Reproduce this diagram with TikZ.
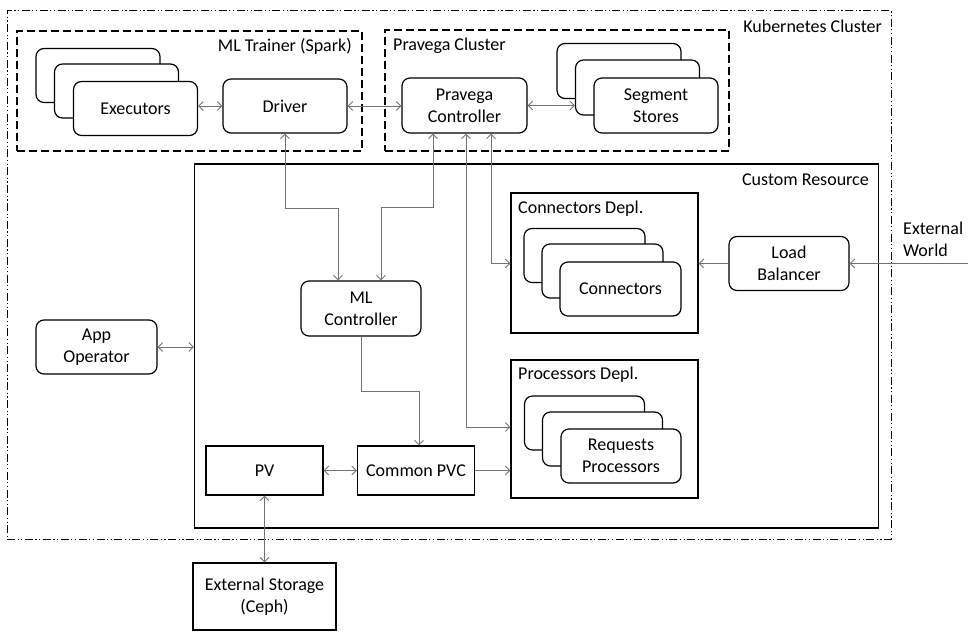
\documentclass[tikz,border=0pt]{standalone}
\usepackage{fontspec}
\setmainfont{Carlito}
\usetikzlibrary{arrows.meta,calc}
\begin{document}
\begin{tikzpicture}[x=1pt,y=-1pt,
  lbl/.style={inner sep=0pt, font=\fontsize{18}{22}\selectfont, align=center},
  box/.style={draw, line width=1.2pt, fill=white, inner sep=0pt, align=center, font=\fontsize{18}{22}\selectfont},
  rbox/.style={box, rounded corners=8pt},
  cont/.style={draw, line width=1.2pt, inner sep=0pt},
  dcont/.style={cont, line width=1.1pt, dash pattern=on 8pt off 4pt},
  kcont/.style={draw, line width=1pt, inner sep=0pt, dash pattern=on 8pt off 2.5pt on 1.2pt off 2.5pt on 1.2pt off 2.5pt},
  conn/.style={draw=black!55, line width=0.9pt},
  >={Straight Barb[length=4.5pt,width=9pt]}
]
\useasboundingbox (0,0) rectangle (973,636);

% containers
\node[kcont, minimum width=884, minimum height=528] (k8s) at (449,275) {};
\node[dcont, minimum width=345, minimum height=120] (trainer) at (189.5,91) {};
\node[dcont, minimum width=344, minimum height=121] (pcl) at (557,90.5) {};
\node[cont, minimum width=684, minimum height=364] (cr) at (536.5,346) {};
\node[cont, minimum width=187, minimum height=140] (cd) at (604.5,263) {};
\node[cont, minimum width=187, minimum height=138] (prd) at (604.5,429) {};

\node[lbl, anchor=east] (k8sl) at (882,26) {Kubernetes Cluster};
\node[lbl, anchor=east] (trainerl) at (352,46) {ML Trainer (Spark)};
\node[lbl, anchor=west] (pcll) at (393,46) {Pravega Cluster};
\node[lbl, anchor=east] (crl) at (869,180) {Custom Resource};
\node[lbl, anchor=west] (cdl) at (518,209) {Connectors Depl.};
\node[lbl, anchor=west] (prdl) at (518,375) {Processors Depl.};
\node[lbl, anchor=west, align=left] (ewl) at (903,239) {External\\World};

% boxes
\node[rbox, minimum width=124, minimum height=54] (exe1) at (98,75.5) {};
\node[rbox, minimum width=124, minimum height=54] (exe2) at (116.5,91) {};
\node[rbox, minimum width=124, minimum height=54] (exe3) at (135.5,108.5) {Executors};
\node[rbox, minimum width=124, minimum height=54] (driver) at (285,106) {Driver};
\node[rbox, minimum width=125, minimum height=55] (pc) at (464.5,105.5) {Pravega\\Controller};
\node[rbox, minimum width=124, minimum height=55] (seg1) at (619,71) {};
\node[rbox, minimum width=124, minimum height=55] (seg2) at (637.5,87.5) {};
\node[rbox, minimum width=124, minimum height=55] (seg3) at (656,105.5) {Segment\\Stores};
\node[rbox, minimum width=120, minimum height=55] (mlc) at (361,308.5) {ML\\Controller};
\node[rbox, minimum width=121, minimum height=54] (app) at (96.5,347) {App\\Operator};
\node[rbox, minimum width=120, minimum height=54] (lb) at (789,263.5) {Load\\Balancer};
\node[rbox, minimum width=121, minimum height=54] (con1) at (584.5,255.5) {};
\node[rbox, minimum width=121, minimum height=54] (con2) at (602.5,271) {};
\node[rbox, minimum width=121, minimum height=54] (con3) at (620.5,289) {Connectors};
\node[rbox, minimum width=120, minimum height=54] (req1) at (584.5,423) {};
\node[rbox, minimum width=120, minimum height=54] (req2) at (602.5,439) {};
\node[rbox, minimum width=120, minimum height=54] (req3) at (621,456) {Requests\\Processors};
\node[box, minimum width=117, minimum height=49] (pv) at (264.5,470.5) {PV};
\node[box, minimum width=117, minimum height=49] (cpvc) at (416,470.5) {Common PVC};
\node[box, minimum width=143, minimum height=67] (ext) at (264.5,596.5) {External Storage\\(Ceph)};

\coordinate (ew) at (968,263.5);

% connectors
\draw[conn,<->] (exe3.east |- driver.west) -- (driver.west);
\draw[conn,<->] (driver.east) -- (pc.west |- driver.east);
\draw[conn,<->] (pc.east) -- (seg2.west |- pc.east);
\draw[conn,<->] (driver.south) -- (285,208) -| ([xshift=-23pt]mlc.north);
\draw[conn,<->] ([xshift=-31.5pt]pc.south) |- (381,207) -- ([xshift=20pt]mlc.north);
\draw[conn,<->] ([xshift=1.5pt]pc.south) |- ([yshift=2pt]prd.west);
\draw[conn,<->] ([xshift=26.5pt]pc.south) |- (cd.west |- lb.west);
\draw[conn,->] (mlc.south) |- (419,391) -- ([xshift=3pt]cpvc.north);
\draw[conn,<->] (pv.east) -- (cpvc.west);
\draw[conn,->] (cpvc.east) -- (prd.west |- cpvc.east);
\draw[conn,<->] (pv.south) -- (ext.north);
\draw[conn,->] (lb.west) -- (cd.east |- lb.west);
\draw[conn,->] (ew) -- (lb.east);
\draw[conn,<->] (app.east) -- (cr.west |- app.east);
\end{tikzpicture}
\end{document}
